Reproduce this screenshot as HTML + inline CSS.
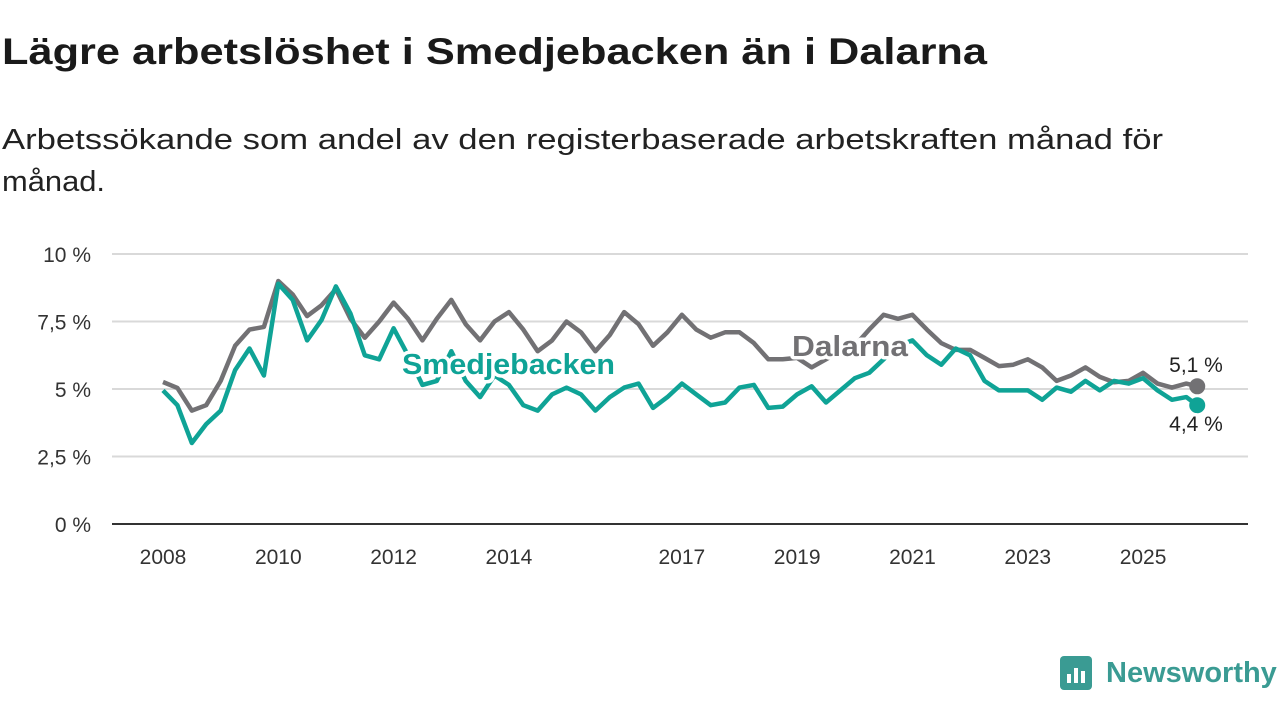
<!DOCTYPE html>
<html><head><meta charset="utf-8"><style>
body{margin:0;width:1280px;height:720px;background:#fff;overflow:hidden;font-family:"Liberation Sans","DejaVu Sans",sans-serif;}
</style></head><body>
<svg width="1280" height="720" xmlns="http://www.w3.org/2000/svg">
<text x="2" y="64" font-size="37" font-weight="bold" fill="#1a1a1a" textLength="985" lengthAdjust="spacingAndGlyphs">Lägre arbetslöshet i Smedjebacken än i Dalarna</text>
<text x="2" y="149" font-size="29" fill="#222" textLength="1161" lengthAdjust="spacingAndGlyphs">Arbetssökande som andel av den registerbaserade arbetskraften månad för</text>
<text x="2" y="191" font-size="29" fill="#222" textLength="103" lengthAdjust="spacingAndGlyphs">månad.</text>
<g id="grid"></g><g id="lines"></g><g id="labels"></g>
<g>
<rect x="1060" y="656" width="32" height="34" rx="4" fill="#3a9b93"/>
<rect x="1067" y="674" width="4" height="9" fill="#fff"/><rect x="1074" y="668" width="4" height="15" fill="#fff"/><rect x="1081" y="671" width="4" height="12" fill="#fff"/>
<text x="1106" y="682" font-size="29" font-weight="bold" fill="#3a9b93">Newsworthy</text>
</g>
</svg>
<script>
const dates=[];for(let i=0;i<72;i++)dates.push(2008+i*0.25);dates.push(2025.94);
const dalarna=[5.26,5.04,4.2,4.4,5.3,6.6,7.2,7.3,9.0,8.5,7.7,8.1,8.7,7.6,6.9,7.5,8.2,7.6,6.8,7.6,8.3,7.4,6.8,7.5,7.85,7.2,6.4,6.8,7.5,7.1,6.4,7.0,7.85,7.4,6.6,7.1,7.75,7.2,6.9,7.1,7.1,6.7,6.1,6.1,6.15,5.8,6.1,6.4,6.6,7.2,7.75,7.6,7.75,7.2,6.7,6.45,6.45,6.15,5.85,5.9,6.1,5.8,5.3,5.5,5.8,5.45,5.25,5.3,5.6,5.2,5.05,5.2,5.1];
const smedjebacken=[4.95,4.4,3.0,3.7,4.2,5.7,6.5,5.5,8.9,8.3,6.8,7.55,8.8,7.8,6.25,6.1,7.25,6.25,5.15,5.3,6.4,5.3,4.7,5.5,5.15,4.4,4.2,4.8,5.05,4.8,4.2,4.7,5.05,5.2,4.3,4.7,5.2,4.8,4.4,4.5,5.05,5.15,4.3,4.35,4.8,5.1,4.5,4.95,5.4,5.6,6.1,6.6,6.8,6.25,5.9,6.5,6.25,5.3,4.95,4.95,4.95,4.6,5.05,4.9,5.3,4.95,5.3,5.2,5.4,4.95,4.6,4.7,4.4];
const yTicks=[0,2.5,5,7.5,10];
const yTickLabels=["0 %","2,5 %","5 %","7,5 %","10 %"];
const xTicks=[2008,2010,2012,2014,2017,2019,2021,2023,2025];
const NS="http://www.w3.org/2000/svg";
const X=t=>163+(t-2008)*57.65, Y=v=>524-v*27;
function mk(tag,attrs,parent,txt){const e=document.createElementNS(NS,tag);for(const k in attrs)e.setAttribute(k,attrs[k]);if(txt!=null)e.textContent=txt;parent.appendChild(e);return e;}
const grid=document.getElementById('grid'),lines=document.getElementById('lines'),labels=document.getElementById('labels');
yTicks.forEach((v,i)=>{
 if(v>0){const l=mk('line',{x1:112,x2:1248,y1:Y(v),y2:Y(v),stroke:'#d9d9d9','stroke-width':2},grid);
 
 }
 const t=mk('text',{x:91,y:Y(v)+8,'text-anchor':'end','font-size':21,fill:'#333'},grid,yTickLabels[i]);
 
 
});
const ax=mk('line',{x1:112,x2:1248,y1:524,y2:524,stroke:'#333','stroke-width':2},grid);


xTicks.forEach(y=>{
 const t=mk('text',{x:X(y),y:564,'text-anchor':'middle','font-size':21,fill:'#333'},grid,String(y));
 
 
});
function series(vals,color,name){
 const d=vals.map((v,i)=>(i?'L':'M')+X(dates[i]).toFixed(1)+','+Y(v).toFixed(1)).join('');
 const p=mk('path',{d:d,fill:'none',stroke:color,'stroke-width':4.5,'stroke-linejoin':'round'},lines);
 
 
 const n=vals.length-1;
 const c=mk('circle',{cx:X(dates[n]),cy:Y(vals[n]),r:8,fill:color},lines);
 
 
}
series(dalarna,'#727174','dalarna');
series(smedjebacken,'#0fa396','smedjebacken');
function lbl(x,y,txt,color,size,bold,name,anchor,len){
 const a={x:x,y:y,'font-size':size,'font-weight':bold?'bold':'normal',fill:color,stroke:'#fff','stroke-width':7,'paint-order':'stroke','stroke-linejoin':'round','text-anchor':anchor||'start'};
 if(len){a.textLength=len;a.lengthAdjust='spacingAndGlyphs';}
 const t=mk('text',a,labels,txt);
 
 
}
lbl(792,356,'Dalarna','#727174',29,true,'dalarna-label','start',116);
lbl(402,374,'Smedjebacken','#0fa396',29,true,'smedjebacken-label','start',213);
lbl(1196,372,'5,1 %','#222',21,false,'dalarna-end-value','middle');
lbl(1196,431,'4,4 %','#222',21,false,'smedjebacken-end-value','middle');
</script>
</body></html>
